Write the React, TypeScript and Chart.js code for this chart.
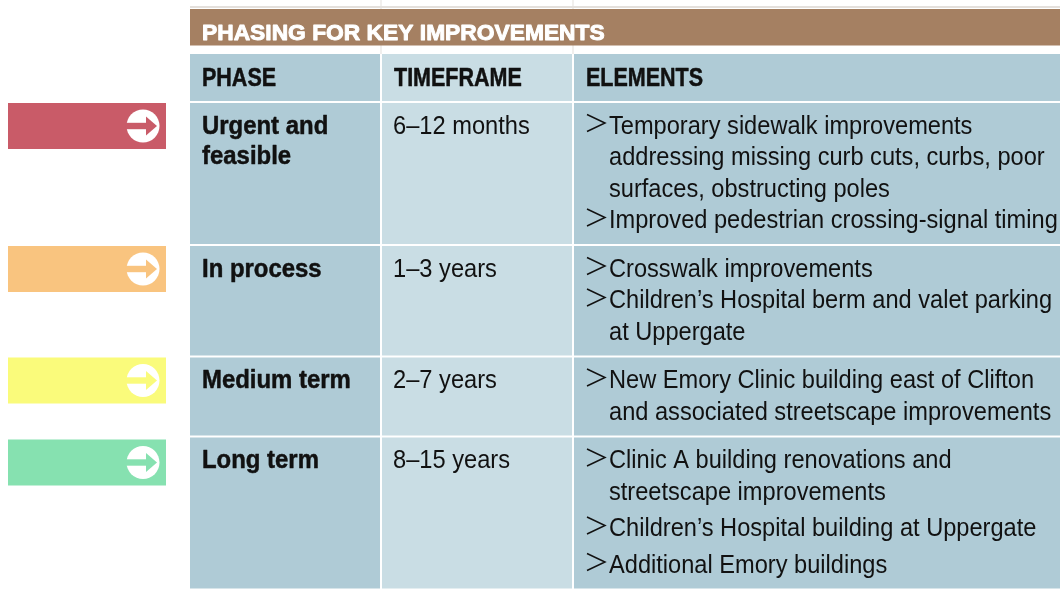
import { useEffect, useRef } from "react";
import { Chart, registerables } from "chart.js";

Chart.register(...registerables);

// ---------- data ----------
const title = "PHASING FOR KEY IMPROVEMENTS";
const headers = ["PHASE", "TIMEFRAME", "ELEMENTS"];
const phases = [["Urgent and", "feasible"], ["In process"], ["Medium term"], ["Long term"]];
const timeframes = ["6–12 months", "1–3 years", "2–7 years", "8–15 years"];
const elements = [
  [
    ["Temporary sidewalk improvements", "addressing missing curb cuts, curbs, poor", "surfaces, obstructing poles"],
    ["Improved pedestrian crossing-signal timing"],
  ],
  [["Crosswalk improvements"], ["Children’s Hospital berm and valet parking", "at Uppergate"]],
  [["New Emory Clinic building east of Clifton", "and associated streetscape improvements"]],
  [
    ["Clinic A building renovations and", "streetscape improvements"],
    ["Children’s Hospital building at Uppergate"],
    ["Additional Emory buildings"],
  ],
];
const phaseColors = ["#c95b68", "#f9c47f", "#fafb7b", "#86e1b0"];

// ---------- layout / style ----------
const W = 1060;
const H = 589;
const FAMILY = '"Liberation Sans", Arial, sans-serif';
const cols = [
  [190, 380],
  [382, 572],
  [574, 1060],
];
const colFills = ["#afcbd6", "#c9dde4", "#afcbd6"];
const titleBar = [9, 45.5];
const headerRow = [54, 101];
const firstRowTop = 103;
const rowGap = 2;
const lineH = 31.5;
const rowPad = 15;
const itemGaps = [0, 0, 0, 5];
const textColor = "#111111";

const tablePlugin = {
  id: "phasingTable",
  beforeDraw(chart: any) {
    const ctx = chart.ctx as CanvasRenderingContext2D;
    ctx.save();
    ctx.fillStyle = "#ffffff";
    ctx.fillRect(0, 0, chart.width, chart.height);
    ctx.restore();
  },
  afterDraw(chart: any) {
    const ctx = chart.ctx as CanvasRenderingContext2D;
    const xs = chart.scales.x;
    const ys = chart.scales.y;
    const X = (v: number) => xs.getPixelForValue(v);
    const Y = (v: number) => ys.getPixelForValue(v);
    const rect = (x0: number, y0: number, x1: number, y1: number, color: string) => {
      ctx.fillStyle = color;
      ctx.fillRect(X(x0), Y(y0), X(x1) - X(x0), Y(y1) - Y(y0));
    };
    const text = (
      s: string,
      x: number,
      y: number,
      font: string,
      sx: number,
      color: string,
      strokeW = 0
    ) => {
      ctx.save();
      ctx.font = font;
      ctx.fillStyle = color;
      ctx.textBaseline = "alphabetic";
      ctx.textAlign = "left";
      ctx.translate(X(x), Y(y));
      ctx.scale(sx, 1);
      ctx.fillText(s, 0, 0);
      if (strokeW > 0) {
        ctx.strokeStyle = color;
        ctx.lineWidth = strokeW;
        ctx.lineJoin = "round";
        ctx.strokeText(s, 0, 0);
      }
      ctx.restore();
    };

    ctx.save();
    // faint frame lines above the title
    ctx.fillStyle = "#e4e0dc";
    ctx.fillRect(X(190), Y(6), X(W) - X(190), 2);
    ctx.fillRect(X(380.5), Y(0), 1, Y(54));
    ctx.fillRect(X(572.5), Y(0), 1, Y(54));

    // title bar
    rect(190, titleBar[0], W, titleBar[1], "#a58062");
    text(title, 202, 39.5, `bold 21.5px ${FAMILY}`, 1.06, "#ffffff", 0.9);

    // header row
    cols.forEach((c, i) => rect(c[0], headerRow[0], c[1], headerRow[1], colFills[i]));
    const headerFont = `bold 25px ${FAMILY}`;
    headers.forEach((h, i) => text(h, cols[i][0] + 12, 86, headerFont, 0.86, textColor, 0.5));

    // body rows
    const boldFont = `bold 26px ${FAMILY}`;
    const regFont = `26px ${FAMILY}`;
    let top = firstRowTop;
    phases.forEach((phase, r) => {
      const items = elements[r];
      const nLines = items.reduce((a, it) => a + it.length, 0);
      const gaps = (items.length - 1) * itemGaps[r];
      const rowH = nLines * lineH + gaps + rowPad;
      const bottom = Math.min(top + rowH, H);
      cols.forEach((c, i) => rect(c[0], top, c[1], bottom, colFills[i]));

      const base = top + 30.5;
      phase.forEach((ln, k) =>
        text(ln, cols[0][0] + 12, base + k * 30.5, boldFont, 0.92, textColor, 0.5)
      );
      text(timeframes[r], cols[1][0] + 11, base, regFont, 0.91, textColor);

      let y = base;
      items.forEach((it, k) => {
        if (k > 0) y += itemGaps[r];
        // ">" bullet
        const bx = X(cols[2][0] + 13);
        const by = Y(y);
        ctx.strokeStyle = textColor;
        ctx.lineWidth = 1.5;
        ctx.lineJoin = "miter";
        ctx.beginPath();
        ctx.moveTo(bx, by - 19);
        ctx.lineTo(bx + 18, by - 10.5);
        ctx.lineTo(bx, by - 2);
        ctx.stroke();
        it.forEach((ln) => {
          text(ln, cols[2][0] + 35, y, regFont, 0.908, textColor);
          y += lineH;
        });
      });

      // phase marker at the left
      const mTop = top + (r === 3 ? 2 : 0);
      const mBot = mTop + 46;
      rect(8, mTop, 166, mBot, phaseColors[r]);
      const cx = X(143);
      const cy = (Y(mTop) + Y(mBot)) / 2;
      const rad = 16.5;
      ctx.fillStyle = "#ffffff";
      ctx.beginPath();
      ctx.arc(cx, cy, rad, 0, Math.PI * 2);
      ctx.fill();
      ctx.fillStyle = phaseColors[r];
      ctx.fillRect(cx - rad - 1, cy - 3.2, rad + 5, 6.4);
      ctx.beginPath();
      ctx.moveTo(cx + 3, cy - 9.5);
      ctx.lineTo(cx + 14, cy);
      ctx.lineTo(cx + 3, cy + 9.5);
      ctx.closePath();
      ctx.fill();

      top = top + rowH + rowGap;
    });
    ctx.restore();
  },
};

export default function App() {
  const ref = useRef<HTMLCanvasElement | null>(null);
  useEffect(() => {
    if (!ref.current) return;
    const chart = new Chart(ref.current, {
      type: "scatter",
      data: { datasets: [{ data: [] }] },
      options: {
        animation: false,
        responsive: false,
        maintainAspectRatio: false,
        events: [],
        layout: { padding: 0 },
        plugins: { legend: { display: false }, tooltip: { enabled: false } },
        scales: {
          x: { type: "linear", min: 0, max: W, display: false },
          y: { type: "linear", min: 0, max: H, reverse: true, display: false },
        },
      },
      plugins: [tablePlugin],
    });
    return () => chart.destroy();
  }, []);
  return (
    <div style={{ position: "absolute", left: 0, top: 0, width: W, height: H, background: "#fff" }}>
      <canvas ref={ref} width={W} height={H} style={{ display: "block" }} />
    </div>
  );
}
